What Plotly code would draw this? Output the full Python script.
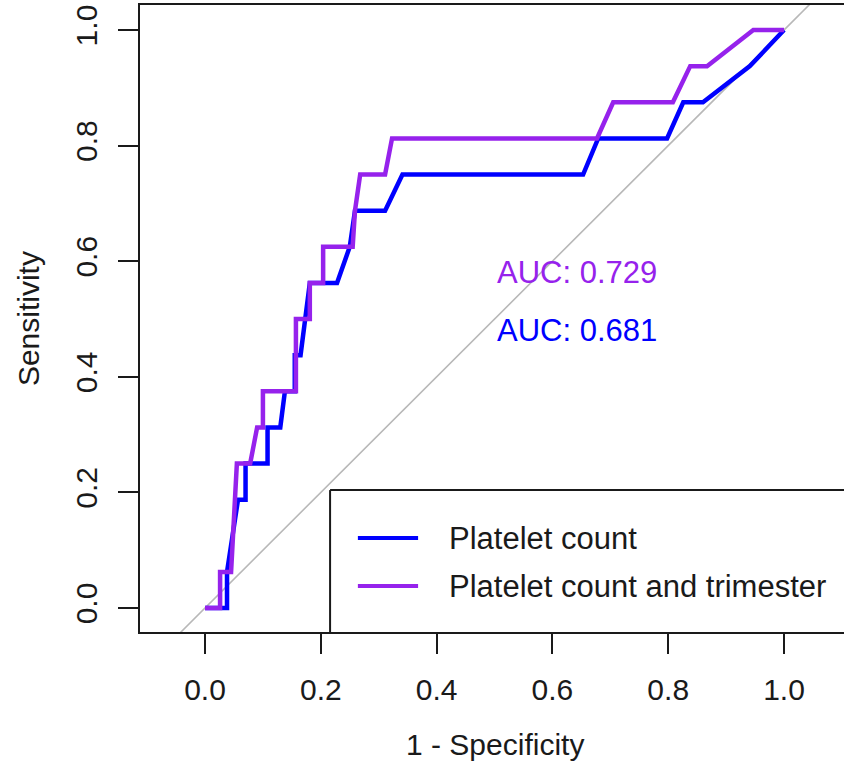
import plotly.graph_objects as go

# ROC curve data (x = 1 - Specificity, y = Sensitivity)
platelet_fpr = [0.0, 0.038, 0.038, 0.057, 0.070, 0.070, 0.108, 0.108, 0.130, 0.138, 0.155,
                0.155, 0.165, 0.181, 0.228, 0.250, 0.259, 0.311, 0.341, 0.653, 0.679,
                0.798, 0.826, 0.860, 0.941, 1.0]
platelet_tpr = [0.0, 0.0, 0.0625, 0.1875, 0.1875, 0.25, 0.25, 0.3125, 0.3125, 0.375, 0.375,
                0.4375, 0.4375, 0.5625, 0.5625, 0.625, 0.6875, 0.6875, 0.75, 0.75, 0.8125,
                0.8125, 0.875, 0.875, 0.9375, 1.0]

trimester_fpr = [0.0, 0.026, 0.026, 0.045, 0.055, 0.078, 0.090, 0.100, 0.100, 0.157, 0.157,
                 0.181, 0.181, 0.204, 0.204, 0.255, 0.259, 0.268, 0.311, 0.323, 0.677,
                 0.705, 0.808, 0.838, 0.867, 0.947, 1.0]
trimester_tpr = [0.0, 0.0, 0.0625, 0.0625, 0.25, 0.25, 0.3125, 0.3125, 0.375, 0.375, 0.5,
                 0.5, 0.5625, 0.5625, 0.625, 0.625, 0.6875, 0.75, 0.75, 0.8125, 0.8125,
                 0.875, 0.875, 0.9375, 0.9375, 1.0, 1.0]

series_names = ["Platelet count", "Platelet count and trimester"]
auc_values = [0.681, 0.729]
tick_values = [0.0, 0.2, 0.4, 0.6, 0.8, 1.0]
tick_labels = ["0.0", "0.2", "0.4", "0.6", "0.8", "1.0"]
diag_ends = [-0.5, 1.5]

BLUE = "#0000FF"
PURPLE = "#9622EC"
FONT = "Liberation Sans, Arial, Helvetica, sans-serif"
INK = "#1a1a1a"

fig = go.Figure()

# chance diagonal
fig.add_trace(go.Scatter(x=diag_ends, y=diag_ends, mode="lines",
                         line=dict(color="#b8b8b8", width=1.6),
                         showlegend=False, hoverinfo="skip"))

fig.add_trace(go.Scatter(x=platelet_fpr, y=platelet_tpr, mode="lines",
                         name=series_names[0], line=dict(color=BLUE, width=4.5),
                         showlegend=False))
fig.add_trace(go.Scatter(x=trimester_fpr, y=trimester_tpr, mode="lines",
                         name=series_names[1], line=dict(color=PURPLE, width=4.5),
                         showlegend=False))

axis_common = dict(
    showgrid=False, zeroline=False, showline=True, linecolor=INK, linewidth=2,
    ticks="outside", ticklen=20, tickwidth=2, tickcolor=INK,
    tickvals=tick_values, ticktext=tick_labels,
    tickfont=dict(family=FONT, size=30, color=INK),
)

fig.update_layout(
    width=844, height=769,
    margin=dict(l=140, r=0, t=5, b=137),
    paper_bgcolor="white", plot_bgcolor="white",
    showlegend=False,
    xaxis=dict(range=[-0.1123, 1.1036], mirror=True, ticklabelstandoff=10, **axis_common),
    yaxis=dict(range=[-0.0415, 1.0433], tickangle=-90, ticklabelstandoff=9, **axis_common),
)

# legend box: top and left edges (right edge lies beyond the picture, bottom is the axis)
fig.add_shape(type="line", xref="x", yref="y", x0=0.216, x1=1.3, y0=0.204, y1=0.204,
              line=dict(color=INK, width=2), layer="above")
fig.add_shape(type="line", xref="x", yref="y", x0=0.216, x1=0.216, y0=-0.0415, y1=0.204,
              line=dict(color=INK, width=2), layer="above")
legend_y = [0.121, 0.038]
for yy, col, name in zip(legend_y, [BLUE, PURPLE], series_names):
    fig.add_shape(type="line", xref="x", yref="y", x0=0.264, x1=0.368, y0=yy, y1=yy,
                  line=dict(color=col, width=4), layer="above")
    fig.add_annotation(x=0.418, y=yy, xref="x", yref="y", text=name, showarrow=False,
                       xanchor="left", yanchor="middle",
                       font=dict(family=FONT, size=31, color=INK))

# AUC labels
for yy, col, auc in zip([0.48, 0.58], [BLUE, PURPLE], auc_values):
    fig.add_annotation(x=0.5, y=yy, xref="x", yref="y", text=f"AUC: {auc:.3f}",
                       showarrow=False, xanchor="left", yanchor="middle",
                       font=dict(family=FONT, size=31, color=col))

# axis titles
fig.add_annotation(x=0.5, y=-0.18, xref="x", yref="paper", text="1 - Specificity",
                   showarrow=False, xanchor="center", yanchor="middle",
                   font=dict(family=FONT, size=30, color=INK))
fig.add_annotation(x=-0.159, y=0.5, xref="paper", yref="y", text="Sensitivity",
                   showarrow=False, textangle=-90, xanchor="center", yanchor="middle",
                   font=dict(family=FONT, size=30, color=INK))

fig.write_html("out.html",
               config={"displayModeBar": False},
               post_script="document.body.style.margin='0';document.body.style.overflow='hidden';")
